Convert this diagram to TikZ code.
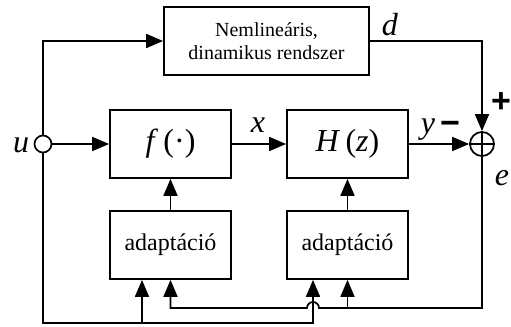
\documentclass[tikz,border=0pt]{standalone}
\usepackage{fontspec}
\setmainfont{Liberation Serif}
\newfontfamily\signfont{Liberation Sans}
\usetikzlibrary{arrows.meta}

\begin{document}
\begin{tikzpicture}[x=0.5pt, y=-0.5pt, line width=0.85pt,
    blokk/.style={draw, minimum width=60.5pt, minimum height=34pt, inner sep=0pt,
        font=\fontsize{12}{14}\selectfont},
    jel/.style={anchor=base, inner sep=0pt, font=\fontsize{16}{18}\selectfont\itshape},
    elojel/.style={inner sep=0pt, font=\signfont\fontsize{17}{19}\selectfont\bfseries},
    nyil/.style={-{Triangle[length=8.5pt, width=7pt]}}]
    \useasboundingbox (0,0) rectangle (511,327);

    % blokkok
    \node[blokk, minimum width=102.5pt, align=center, font=\fontsize{10}{11.5}\selectfont]
        (nonlin) at (266.5,41) {Nemlineáris,\\dinamikus rendszer};
    \node[blokk, font=\fontsize{16}{18}\selectfont] (fblk) at (170.5,144) {\textit{f}\,(·)};
    \node[blokk, font=\fontsize{16}{18}\selectfont] (hblk) at (347.5,144) {\textit{H}\,(\textit{z})};
    \node[blokk] (adaptf) at (170.5,245) {adaptáció};
    \node[blokk] (adapth) at (347.5,245) {adaptáció};

    % bemenet es osszegzo
    \node[draw, circle, minimum size=8.5pt, inner sep=0pt] (uin) at (43,144) {};
    \node[draw, circle, minimum size=12pt, inner sep=0pt] (sum) at (482,144) {};
    \draw (sum.north) -- (sum.south) (sum.west) -- (sum.east);

    % jelutak
    \draw[nyil] (uin.east) -- (fblk.west);
    \draw[nyil] (uin.north) |- (nonlin.west);
    \draw[nyil] (fblk) -- (hblk);
    \draw[nyil] (hblk) -- (sum);
    \draw[nyil] (nonlin.east) -| (sum.north);
    \draw[nyil] (adaptf) -- (fblk);
    \draw[nyil] (adapth) -- (hblk);

    % visszacsatolas az adaptaciohoz
    \coordinate (evonal) at (0,308);
    \coordinate (elag) at (142,323);
    \coordinate (csomo) at (313,323);
    \draw[nyil] (uin.south) |- (csomo) -- (csomo |- adapth.south);
    \draw[nyil] (elag) -- (elag |- adaptf.south);
    \draw[nyil] (sum.south) |- (319,308) arc (0:-180:6) -| (adaptf.south);
    \draw[nyil] (adapth.south |- evonal) -- (adapth.south);

    % feliratok
    \node[jel] (lu) at (21,152) {u};
    \node[jel] (lx) at (258,132) {x};
    \node[jel] (ly) at (428,133) {y};
    \node[jel] (ld) at (390,35) {d};
    \node[jel] (le) at (502,185) {e};
    \node[elojel] (plus) at (501,103) {+};
    \node[elojel] (minus) at (450,128) {−};
\end{tikzpicture}
\end{document}
